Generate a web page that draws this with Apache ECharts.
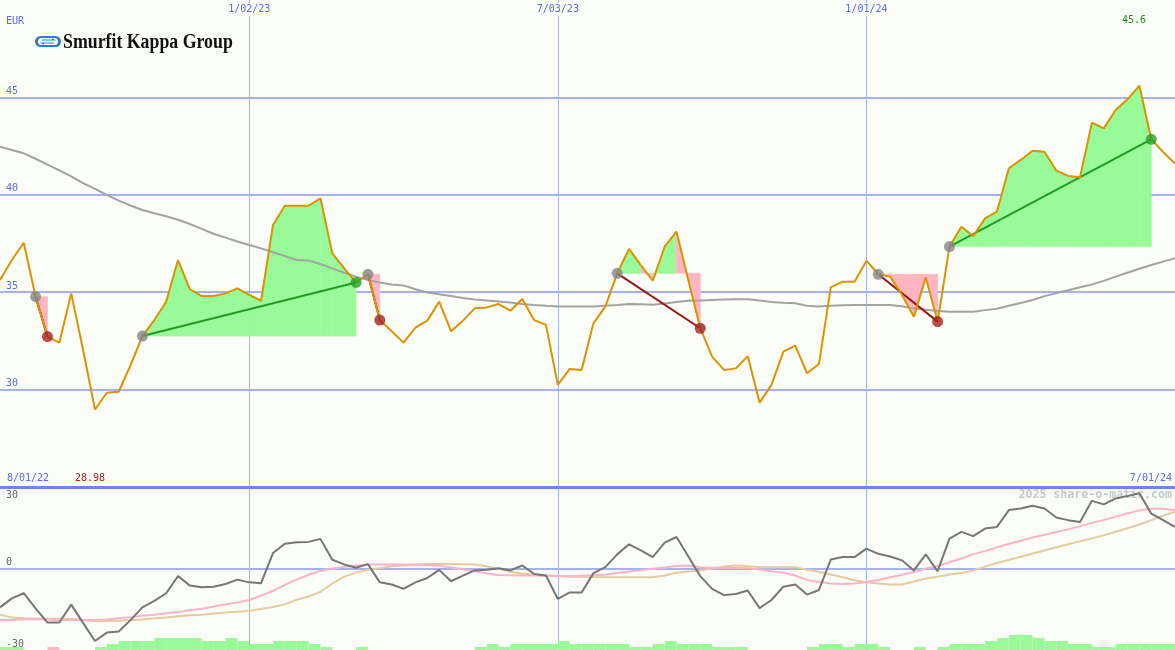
<!DOCTYPE html>
<html><head><meta charset="utf-8">
<script src="https://cdn.jsdelivr.net/npm/echarts@6/dist/echarts.min.js"></script>
<style>html,body{margin:0;padding:0;background:#fbfdf9}#c{width:1175px;height:650px}</style>
</head><body><div id="c"></div>
<script>
// ---------- data ----------
const startYMD = [2022, 7, 8];          // first weekly point (Aug 8 2022)
const weekCount = 100;
const dateTicks = ['1/02/23', '7/03/23', '1/01/24'];
const rangeLabels = ['8/01/22', '7/01/24'];
const currency = 'EUR';
const company = 'Smurfit Kappa Group';
const watermark = '2025 share-o-matic.com';

const price = [35.63,36.65,37.54,34.77,32.72,32.41,34.94,32.03,28.98,29.84,
  29.89,31.26,32.75,33.57,34.51,36.65,35.15,34.8,34.8,34.94,
  35.2,34.86,34.56,38.45,39.44,39.44,39.44,39.82,36.99,36.22,
  35.5,35.92,33.57,33.0,32.41,33.18,33.54,34.51,33.0,33.54,
  34.17,34.22,34.39,34.05,34.65,33.57,33.32,30.24,31.06,31.01,
  33.4,34.26,35.97,37.22,36.38,35.59,37.34,38.11,35.6,33.15,
  31.69,31.01,31.09,31.72,29.33,30.24,31.95,32.26,30.84,31.31,
  35.25,35.54,35.54,36.62,35.92,35.8,34.86,33.74,35.76,33.49,
  37.34,38.36,37.88,38.79,39.13,41.36,41.79,42.26,42.21,41.24,
  40.97,40.9,43.7,43.41,44.35,44.9,45.6,42.85,42.2,41.6];

const movingAvg = [42.47,42.3,42.13,41.85,41.55,41.25,40.95,40.6,40.3,40.0,
  39.7,39.45,39.22,39.05,38.9,38.72,38.5,38.25,38.0,37.8,
  37.6,37.42,37.25,37.05,36.85,36.65,36.63,36.45,36.22,36.0,
  35.8,35.62,35.5,35.4,35.35,35.15,34.98,34.9,34.8,34.7,
  34.63,34.57,34.52,34.47,34.4,34.34,34.3,34.27,34.26,34.26,
  34.26,34.3,34.34,34.4,34.38,34.35,34.42,34.5,34.56,34.58,
  34.6,34.62,34.64,34.64,34.58,34.5,34.46,34.43,34.3,34.26,
  34.3,34.33,34.34,34.34,34.34,34.34,34.28,34.17,34.1,34.03,
  34.0,34.0,34.0,34.08,34.15,34.3,34.45,34.6,34.8,34.95,
  35.1,35.25,35.4,35.58,35.8,36.0,36.2,36.4,36.57,36.74];

// trades: entry / exit week index
const tradeEntry = [3, 12, 31, 52, 74, 80];
const tradeExit  = [4, 30, 32, 59, 79, 97];

const momentum = [-14.3,-11.0,-9.1,-14.7,-19.9,-19.9,-13.3,-20.0,-26.7,-23.6,
  -23.2,-19.0,-14.3,-11.9,-9.1,-2.8,-6.3,-6.9,-6.7,-5.7,
  -4.1,-5.1,-5.4,5.7,9.1,9.7,9.8,10.9,3.2,1.5,
  0.3,1.6,-5.1,-5.9,-7.5,-5.1,-3.5,-0.5,-4.7,-2.6,
  -0.7,-0.5,0.1,-0.7,1.1,-2.0,-2.6,-11.2,-8.8,-8.8,
  -1.7,0.5,5.2,8.9,6.7,4.2,9.5,11.6,4.4,-2.8,
  -7.5,-9.8,-9.4,-8.1,-14.6,-11.6,-6.7,-5.9,-9.6,-7.9,
  3.3,4.2,4.2,7.3,5.4,4.4,3.0,-0.7,5.2,-1.0,
  11.0,13.5,11.9,14.7,15.3,21.5,22.1,23.1,22.1,18.8,
  17.8,17.1,24.9,23.6,25.8,26.7,27.7,20.2,17.8,15.3];

const fastSignal = [-19.0,-18.9,-18.7,-18.6,-18.8,-19.0,-19.0,-19.0,-19.0,-18.8,
  -18.3,-17.9,-17.4,-17.0,-16.5,-16.0,-15.4,-14.8,-14.0,-13.2,
  -12.5,-11.6,-10.0,-8.2,-6.0,-4.0,-2.3,-0.9,0.0,0.6,
  1.1,1.5,1.5,1.5,1.5,1.5,1.3,1.0,0.4,-0.3,
  -1.0,-1.8,-2.4,-2.5,-2.6,-2.6,-2.7,-2.8,-2.8,-2.7,
  -2.5,-2.2,-1.7,-1.1,-0.6,-0.1,0.4,0.9,1.1,0.5,
  0.3,0.3,0.3,0.1,-0.4,-1.0,-1.6,-2.6,-4.2,-5.0,
  -5.5,-5.7,-5.5,-5.0,-4.2,-3.2,-2.3,-1.3,0.0,0.9,
  2.3,3.7,5.3,6.4,7.8,9.0,10.2,11.4,12.4,13.4,
  14.4,15.6,16.8,17.9,19.1,20.3,21.4,22.0,22.0,21.5];

const slowSignal = [-17.0,-18.0,-18.3,-18.5,-18.5,-18.5,-18.6,-19.0,-19.3,-19.3,
  -19.2,-19.0,-18.8,-18.3,-18.0,-17.6,-17.2,-17.0,-16.6,-16.2,
  -15.9,-15.6,-14.9,-14.2,-13.2,-11.5,-10.3,-8.6,-5.5,-3.0,
  -1.5,-0.5,0.1,0.8,1.1,1.4,1.7,1.7,1.7,1.6,
  1.5,0.8,-0.1,-1.2,-1.8,-2.3,-2.6,-2.8,-3.0,-3.0,
  -3.1,-3.2,-3.2,-3.2,-3.2,-3.2,-2.6,-1.6,-1.1,-0.7,
  0.0,0.7,1.1,0.8,0.5,0.5,0.5,0.5,-0.5,-1.2,
  -2.2,-3.2,-4.3,-5.1,-5.5,-5.9,-5.9,-4.8,-3.7,-3.0,
  -2.2,-1.7,-0.7,0.7,2.0,3.1,4.3,5.5,6.6,7.8,
  8.9,10.0,11.1,12.2,13.5,14.8,16.2,17.8,19.4,20.9];

// weekly bar levels (one per week interval; negative = pink)
const barLevels = [1,1,0,0,-1,0,0,0,1,2,
  3,3,3,4,4,4,4,3,3,4,
  3,2,2,3,3,3,2,1,0,0,
  1,0,0,0,0,0,0,0,0,0,
  1,2,1,2,2,2,2,3,2,2,
  2,2,2,1,1,2,3,2,2,2,
  1,1,1,0,0,0,0,0,1,2,
  2,1,2,2,1,0,0,1,0,1,
  2,2,2,3,4,5,5,4,3,3,
  2,2,1,1,2,2,2,2,2];

// ---------- derived ----------
const categories = [];
for (let i = 0; i < weekCount; i++) {
  const d = new Date(Date.UTC(startYMD[0], startYMD[1], startYMD[2] + 7 * i));
  categories.push((d.getUTCMonth() + 1) + '/' + String(d.getUTCDate()).padStart(2, '0') + '/' +
    String(d.getUTCFullYear() % 100).padStart(2, '0'));
}
const barCats = categories.slice(0, barLevels.length);
const isTick = (i, v) => dateTicks.includes(v);

const BG = '#fbfdf9';
const MONO = '"DejaVu Sans Mono", monospace';
const BLUE = '#5b68f2';
const GRID = '#a4b2f2';
const GREEN_FILL = '#98fb98';
const PINK_FILL = '#ffb6c1';

const fillData = [];
tradeEntry.forEach((e, t) => {
  for (let i = e; i < tradeExit[t]; i++) fillData.push([i, price[e]]);
});

const tradeLines = tradeEntry.map((e, t) => {
  const x = tradeExit[t];
  const win = price[x] >= price[e];
  return {
    type: 'line', xAxisIndex: 0, yAxisIndex: 0, z: 3, silent: true,
    data: [[e, price[e]], [x, price[x]]], symbol: 'none',
    lineStyle: { color: win ? '#239b23' : '#9e1515', width: 2 }
  };
});
const entryDots = tradeEntry.map(e => [e, price[e]]);
const exitDots = tradeExit.map((x, t) => ({
  value: [x, price[x]],
  itemStyle: { color: price[x] >= price[tradeEntry[t]] ? '#25a025' : '#a51f1f' }
}));

const maxLabel = String(Math.max(...price));
const minLabel = Math.min(...price).toFixed(2);

const chart = echarts.init(document.getElementById('c'));
chart.setOption({
  animation: false,
  backgroundColor: BG,
  grid: [
    { left: 0, right: 0, top: 0, height: 487 },
    { left: 0, right: 0, top: 487, height: 163 }
  ],
  xAxis: [
    { gridIndex: 0, type: 'category', data: categories, boundaryGap: false, position: 'top',
      axisLine: { show: false, onZero: false }, axisTick: { show: false },
      axisLabel: { inside: true, interval: isTick, color: BLUE, fontFamily: MONO, fontSize: 10,
        margin: 3, backgroundColor: BG, padding: [1, 1, 2, 1] },
      splitLine: { show: true, interval: isTick, lineStyle: { color: GRID, width: 1 } } },
    { gridIndex: 1, type: 'category', data: categories, boundaryGap: false, position: 'top',
      axisLine: { show: true, onZero: false, lineStyle: { color: '#7282ee', width: 3 } }, axisTick: { show: false },
      axisLabel: { show: false },
      splitLine: { show: true, interval: isTick, lineStyle: { color: GRID, width: 1 } } },
    { gridIndex: 1, type: 'category', data: barCats, boundaryGap: true, show: false,
      axisLine: { onZero: false } }
  ],
  yAxis: [
    { gridIndex: 0, type: 'value', min: 25, max: 50, interval: 5,
      axisLine: { show: false }, axisTick: { show: false },
      axisLabel: { inside: true, showMinLabel: false, showMaxLabel: false, color: BLUE,
        fontFamily: MONO, fontSize: 10, verticalAlign: 'bottom', margin: 6, padding: [0, 0, 1, 0] },
      splitLine: { show: true, showMinLine: false, showMaxLine: false, lineStyle: { color: GRID, width: 2 } } },
    { gridIndex: 1, type: 'value', min: -30, max: 30, interval: 30,
      axisLine: { show: false }, axisTick: { show: false },
      axisLabel: { inside: true, showMaxLabel: false, color: '#666', fontFamily: MONO, fontSize: 10,
        verticalAlign: 'bottom', margin: 6, padding: [0, 0, 1, 0] },
      splitLine: { show: true, showMinLine: false, showMaxLine: false, lineStyle: { color: GRID, width: 2 } } },
    { gridIndex: 1, type: 'value', min: -30, max: 30, interval: 30, position: 'left',
      axisLine: { show: false }, axisTick: { show: false }, splitLine: { show: false },
      axisLabel: { inside: true, formatter: v => (v === 30 ? String(v) : ''), color: '#666',
        fontFamily: MONO, fontSize: 10, verticalAlign: 'top', margin: 6, padding: [3, 0, 0, 0] } },
    { gridIndex: 1, type: 'value', min: 0, max: 163 / 3, show: false }
  ],
  series: [
    { type: 'custom', xAxisIndex: 0, yAxisIndex: 0, z: 1, silent: true, data: fillData,
      renderItem: (params, api) => {
        const i = api.value(0), lvl = api.value(1);
        const p0 = api.coord([i, price[i]]), p1 = api.coord([i + 1, price[i + 1]]);
        const b0 = api.coord([i, lvl]), b1 = api.coord([i + 1, lvl]);
        const col = price[i + 1] >= lvl ? GREEN_FILL : PINK_FILL;
        return { type: 'polygon', shape: { points: [p0, p1, b1, b0] },
          style: { fill: col, stroke: col, lineWidth: 0.6 } };
      } },
    { type: 'line', xAxisIndex: 0, yAxisIndex: 0, z: 2, silent: true, data: movingAvg, symbol: 'none',
      lineStyle: { color: '#a3a3a3', width: 2 } },
    ...tradeLines,
    { type: 'line', xAxisIndex: 0, yAxisIndex: 0, z: 4, silent: true, data: price, symbol: 'none',
      lineStyle: { color: '#dc9300', width: 2 } },
    { type: 'scatter', xAxisIndex: 0, yAxisIndex: 0, z: 5, silent: true, data: entryDots,
      symbolSize: 11, itemStyle: { color: '#858585' } },
    { type: 'scatter', xAxisIndex: 0, yAxisIndex: 0, z: 5, silent: true, data: exitDots, symbolSize: 11 },
    { type: 'bar', xAxisIndex: 2, yAxisIndex: 3, silent: true, barWidth: '100%', barCategoryGap: '0%',
      data: barLevels.map(v => ({ value: Math.abs(v), itemStyle: { color: v < 0 ? PINK_FILL : GREEN_FILL } })) },
    { type: 'line', xAxisIndex: 1, yAxisIndex: 1, z: 3, silent: true, data: slowSignal, symbol: 'none',
      lineStyle: { color: '#e6cb9c', width: 2 } },
    { type: 'line', xAxisIndex: 1, yAxisIndex: 1, z: 3, silent: true, data: fastSignal, symbol: 'none',
      lineStyle: { color: '#ffb2c6', width: 2 } },
    { type: 'line', xAxisIndex: 1, yAxisIndex: 1, z: 4, silent: true, data: momentum, symbol: 'none',
      lineStyle: { color: '#777777', width: 2 } }
  ],
  graphic: [
    { type: 'text', left: 6, top: 16, style: { text: currency, fill: BLUE, font: '10px ' + MONO } },
    { type: 'text', right: 29, top: 15, style: { text: maxLabel, fill: '#1f8f1f', font: '10px ' + MONO } },
    { type: 'text', left: 7, top: 473, style: { text: rangeLabels[0], fill: BLUE, font: '10px ' + MONO } },
    { type: 'text', left: 75, top: 473, style: { text: minLabel, fill: '#a32222', font: '10px ' + MONO } },
    { type: 'text', right: 3, top: 473, style: { text: rangeLabels[1], fill: BLUE, font: '10px ' + MONO } },
    { type: 'text', right: 3, top: 489, z: 0, style: { text: watermark, fill: '#c8c8c8', font: 'bold 11.6px ' + MONO } },
    { type: 'rect', shape: { x: 35, y: 36, width: 26, height: 11, r: 5.5 }, style: { fill: '#3a78cc' } },
    { type: 'rect', shape: { x: 38, y: 38, width: 20, height: 7, r: 3.5 }, style: { fill: '#ffffff' } },
    { type: 'polyline', shape: { points: [[42, 40], [54, 40], [52, 38.8]] }, style: { stroke: '#3a78cc', lineWidth: 1.2, fill: null } },
    { type: 'polyline', shape: { points: [[54, 43], [42, 43], [44, 44.2]] }, style: { stroke: '#3a78cc', lineWidth: 1.2, fill: null } },
    { type: 'text', x: 63, y: 33, scaleX: 0.89, style: { text: company, fill: '#111',
      font: 'bold 20px "Liberation Serif", serif', verticalAlign: 'top' } }
  ]
});
</script>
</body></html>
